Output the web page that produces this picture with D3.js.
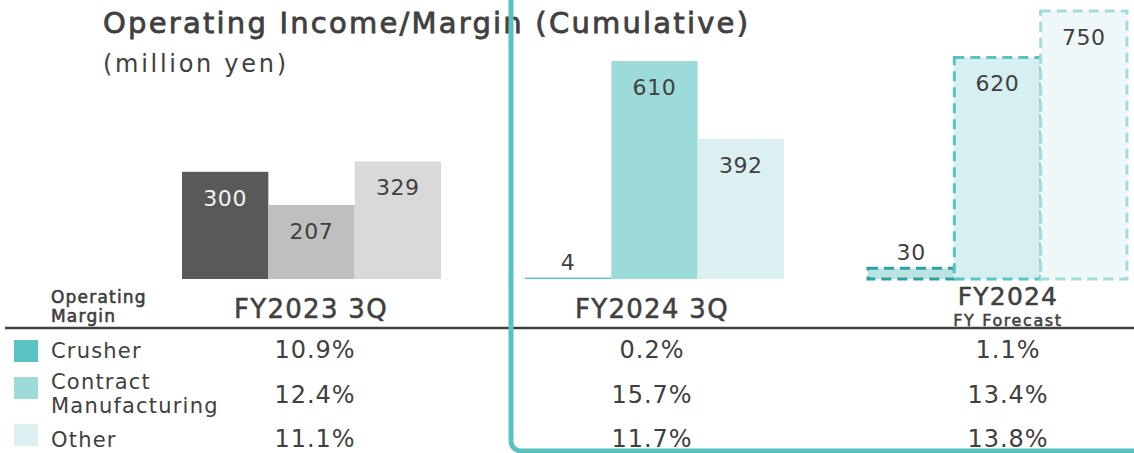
<!DOCTYPE html>
<html>
<head>
<meta charset="utf-8">
<script src="https://cdn.jsdelivr.net/npm/d3@7"></script>
<style>
  body { margin: 0; background: #fff; }
  svg { display: block; font-family: "DejaVu Sans", "Noto Sans", sans-serif; }
</style>
</head>
<body>
<svg id="chart" width="1134" height="453"></svg>
<script>
(function (d3) {
    'use strict';

    // data
    const periods = ["FY2023 3Q", "FY2024 3Q", "FY2024"];
    const segments = ["Crusher", "Contract Manufacturing", "Other"];
    const crusher = [300, 4, 30];
    const contract = [207, 610, 620];
    const other = [329, 392, 750];
    const marginCrusher = ["10.9%", "0.2%", "1.1%"];
    const marginContract = ["12.4%", "15.7%", "13.4%"];
    const marginOther = ["11.1%", "11.7%", "13.8%"];

    const ink = "#404040";
    const teal = ["#5bc2c2", "#9ddada", "#dcf0f1"];
    const grey = ["#595959", "#bfbfbf", "#d9d9d9"];
    const fcFill = ["#b9e4e4", "#d6eff0", "#eff8f9"];
    const fcStroke = ["#2f9f9f", "#5bc2c2", "#a4dcdc"];

    const svg = d3.select("#chart");

    // three groups of three bars; each group ~259px wide
    const x = d3.scaleOrdinal().domain(periods).range([182, 525, 868]);
    const xs = d3.scaleBand().domain(segments).range([0, 259]);
    const y = d3.scaleLinear().domain([0, 750]).range([279, 11]);

    const cells = [];
    periods.forEach((p, i) => {
        [crusher[i], contract[i], other[i]].forEach((v, j) => {
            cells.push({period: p, i: i, seg: segments[j], j: j, value: v});
        });
    });

    const g = svg.append("g");
    g.selectAll("rect.bar").data(cells).enter().append("rect")
        .attr("class", "bar")
        .attr("x", d => x(d.period) + xs(d.seg))
        .attr("y", d => y(d.value))
        .attr("width", xs.bandwidth())
        .attr("height", d => y(0) - y(d.value))
        .attr("fill", d => d.i === 0 ? grey[d.j] : d.i === 1 ? teal[d.j] : fcFill[d.j])
        .attr("stroke", d => d.i === 2 ? fcStroke[d.j] : "none")
        .attr("stroke-width", 3)
        .attr("stroke-dasharray", d => d.i === 2 ? "10,6" : null);

    g.selectAll("text.val").data(cells).enter().append("text")
        .attr("class", "val")
        .attr("x", d => x(d.period) + xs(d.seg) + xs.bandwidth() / 2)
        .attr("y", d => d.value < 100 ? y(d.value) - 8 : y(d.value) + 34)
        .attr("text-anchor", "middle")
        .attr("font-size", 22)
        .attr("letter-spacing", 0.6)
        .attr("fill", d => (d.i === 0 && d.j === 0) ? "#f2f2f2" : ink)
        .text(d => d.value);

    // title
    svg.append("text").attr("x", 103).attr("y", 33)
        .attr("font-size", 29).attr("fill", ink)
        .attr("stroke", ink).attr("stroke-width", 0.8)
        .attr("textLength", 645).attr("lengthAdjust", "spacing")
        .text("Operating Income/Margin (Cumulative)");
    svg.append("text").attr("x", 103).attr("y", 72)
        .attr("font-size", 24).attr("fill", ink)
        .attr("textLength", 183).attr("lengthAdjust", "spacing")
        .text("(million yen)");

    // period labels
    const colX = [311, 652, 1008];
    const med = (sel, w) => sel.attr("fill", ink).attr("stroke", ink).attr("stroke-width", w || 0.5);
    med(svg.append("text").attr("x", colX[0]).attr("y", 318).attr("text-anchor", "middle")
        .attr("font-size", 26).attr("letter-spacing", 1.3).text(periods[0]));
    med(svg.append("text").attr("x", colX[1]).attr("y", 318).attr("text-anchor", "middle")
        .attr("font-size", 26).attr("letter-spacing", 1.3).text(periods[1]));
    med(svg.append("text").attr("x", colX[2]).attr("y", 305).attr("text-anchor", "middle")
        .attr("font-size", 25).attr("letter-spacing", 1.2).text(periods[2]));
    med(svg.append("text").attr("x", colX[2]).attr("y", 326).attr("text-anchor", "middle")
        .attr("font-size", 16).attr("letter-spacing", 1.6).text("FY Forecast"));

    med(svg.append("text").attr("x", 51).attr("y", 303).attr("font-size", 17)
        .attr("letter-spacing", 1.2).text("Operating"), 0.6);
    med(svg.append("text").attr("x", 51).attr("y", 322).attr("font-size", 17)
        .attr("letter-spacing", 1.2).text("Margin"), 0.6);

    svg.append("line").attr("x1", 5).attr("x2", 1134).attr("y1", 328).attr("y2", 328)
        .attr("stroke", ink).attr("stroke-width", 2.5);

    // margin table
    const rowY = [358, 403, 447];
    const swY = [340, 377, 424];
    const margins = [marginCrusher, marginContract, marginOther];
    const tableX = [315, 652, 1008];
    segments.forEach((s, j) => {
        svg.append("rect").attr("x", 14).attr("y", swY[j]).attr("width", 24).attr("height", 22)
            .attr("fill", teal[j]);
        margins[j].forEach((m, i) => {
            svg.append("text").attr("x", tableX[i]).attr("y", rowY[j]).attr("text-anchor", "middle")
                .attr("font-size", 24).attr("letter-spacing", 1).attr("fill", ink).text(m);
        });
    });
    const legendText = (t, yy) => svg.append("text").attr("x", 51).attr("y", yy)
        .attr("font-size", 21).attr("letter-spacing", 1.2).attr("fill", ink).text(t);
    legendText("Crusher", 358);
    legendText("Contract", 389);
    legendText("Manufacturing", 413);
    legendText("Other", 447);

    // highlight frame around current year
    svg.append("rect").attr("x", 511).attr("y", -30).attr("width", 700).attr("height", 481)
        .attr("rx", 10).attr("fill", "none").attr("stroke", "#5bc2c2").attr("stroke-width", 5);

}(d3));
</script>
</body>
</html>
